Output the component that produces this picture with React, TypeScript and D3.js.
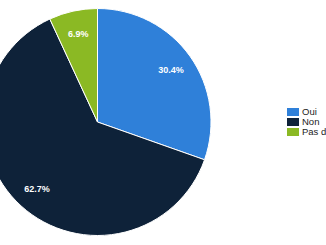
import React from "react";
import * as d3 from "d3";

const categories = ["Oui", "Non", "Pas d'avis"];
const values = [30.4, 62.7, 6.9];
const colors = ["#2f80d9", "#0e2239", "#8bb924"];

const W = 326;
const H = 245;
const cx = 97.5;
const cy = 122;
const R = 113.5;

export default function App() {
  const pie = d3.pie<number>().sort(null).value((d) => d);
  const arcs = pie(values);
  const arc = d3.arc<d3.PieArcDatum<number>>().innerRadius(0).outerRadius(R);
  const labelArc = d3.arc<d3.PieArcDatum<number>>().innerRadius(90).outerRadius(90);
  const total = d3.sum(values);
  return (
    <div style={{ position: "fixed", left: 0, top: 0 }}>
      <svg width={W} height={H} style={{ display: "block", background: "#fff" }}>
        <g transform={`translate(${cx},${cy})`}>
          {arcs.map((a, i) => (
            <path key={i} d={arc(a) || ""} fill={colors[i]} stroke="#fff" strokeWidth={1} />
          ))}
          {arcs.map((a, i) => {
            const [x, y] = labelArc.centroid(a);
            return (
              <text
                key={"l" + i}
                x={x}
                y={y}
                dy="0.35em"
                textAnchor="middle"
                fill="#fff"
                fontFamily="Liberation Sans, Arial, sans-serif"
                fontWeight="bold"
                fontSize={9}
              >
                {((values[i] / total) * 100).toFixed(1)}%
              </text>
            );
          })}
        </g>
        <g transform="translate(287,108)">
          {categories.map((c, i) => (
            <g key={c} transform={`translate(0,${i * 10})`}>
              <rect width={12} height={8} fill={colors[i]} />
              <text
                x={15}
                y={4}
                dy="0.35em"
                fill="#222"
                fontFamily="Liberation Sans, Arial, sans-serif"
                fontSize={9.5}
              >
                {c}
              </text>
            </g>
          ))}
        </g>
      </svg>
    </div>
  );
}
